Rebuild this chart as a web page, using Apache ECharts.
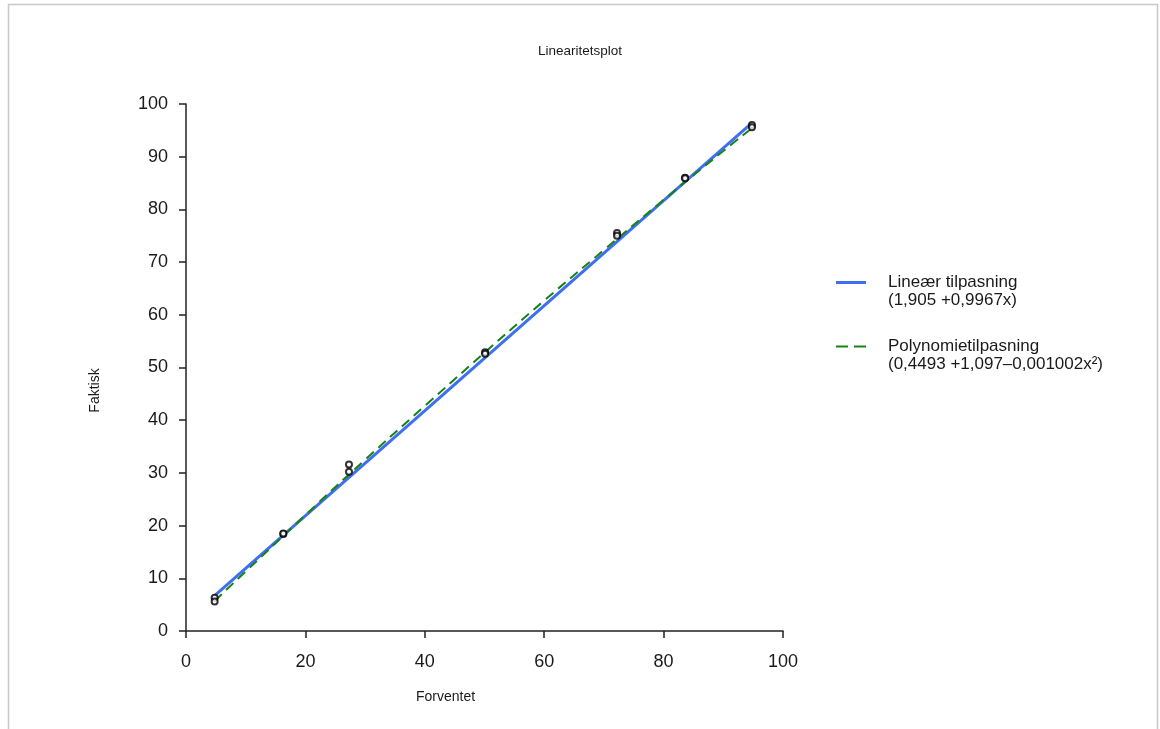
<!DOCTYPE html>
<html>
<head>
<meta charset="utf-8">
<script src="https://cdn.jsdelivr.net/npm/echarts@6/dist/echarts.min.js"></script>
<style>
  html, body { margin: 0; padding: 0; background: #fff; }
  #chart { width: 1160px; height: 729px; }
</style>
</head>
<body>
<div id="chart"></div>
<script>
// measured replicates (expected vs actual)
var expected = [4.8, 4.8, 16.3, 16.3, 27.3, 27.3, 50.1, 50.1, 72.2, 72.2, 83.6, 83.6, 94.8, 94.8];
var actual   = [6.3, 5.6, 18.4, 18.5, 31.6, 30.2, 52.9, 52.6, 75.5, 75.0, 86.0, 85.9, 96.0, 95.6];

// linear fit line, read at the ends
var linX = [4.8, 94.8];
var linY = [6.7, 96.4];

// polynomial fit curve
var polyX = [4.8, 10, 20, 30, 40, 50, 60, 70, 80, 90, 94.8];
var polyY = [5.7, 11.3, 22.0, 32.5, 42.7, 52.8, 62.7, 72.3, 81.8, 91.1, 95.4];

var xTicks = [0, 20, 40, 60, 80, 100];
var yTicks = [0, 10, 20, 30, 40, 50, 60, 70, 80, 90, 100];

var linName = 'Lineær tilpasning\n(1,905 +0,9967x)';
var polyName = 'Polynomietilpasning\n(0,4493 +1,097\u20130,001002x\u00b2)';

var FONT = '"Liberation Sans", Arial, sans-serif';
var TXT = '#1a1a1a';
var BLUE = '#3d6ff0';
var GREEN = '#168216';

function pairs(xs, ys) {
    var out = [];
    for (var i = 0; i < xs.length; i++) {
        out.push([xs[i], ys[i]]);
    }
    return out;
}

// legend text: blank first row so the icon lines up with the first text row
function legendText(name) {
    var lines = name.split('\n');
    var out = ['{t| }'];
    for (var i = 0; i < lines.length; i++) {
        out.push('{t|' + lines[i] + '}');
    }
    return out.join('\n');
}

var axisCommon = {
    axisLine: { show: true, lineStyle: { color: '#222', width: 1.5 } },
    axisTick: { show: true, length: 7, lineStyle: { color: '#222', width: 1.5 } },
    splitLine: { show: false },
    nameTextStyle: { color: TXT, fontSize: 14, fontFamily: FONT }
};

var myChart = echarts.init(document.getElementById('chart'));

var option = {
    backgroundColor: '#fff',
    animation: false,
    title: {
        text: 'Linearitetsplot',
        left: 'center',
        top: 39,
        textStyle: { color: TXT, fontSize: 13.5, fontWeight: 'normal', fontFamily: FONT }
    },
    graphic: [{
        type: 'rect',
        shape: { x: 8.5, y: 4.5, width: 1149, height: 760 },
        style: { fill: null, stroke: '#c8c8c8', lineWidth: 1.5 },
        silent: true
    }],
    legend: {
        orient: 'vertical',
        left: 831,
        top: 251,
        itemWidth: 30,
        itemHeight: 14,
        itemGap: 11,
        data: [
            { name: linName, icon: 'path://M0,0H30V3H0Z' },
            { name: polyName, icon: 'path://M0,0H12V2H0Z M18,0H30V2H18Z' }
        ],
        formatter: legendText,
        textStyle: {
            color: TXT, fontSize: 17, fontFamily: FONT,
            rich: {
                t: { color: TXT, fontSize: 17, fontFamily: FONT, lineHeight: 18, padding: [0, 0, 0, 17] }
            }
        }
    },
    grid: { left: 186, right: 377, top: 104, bottom: 98 },
    series: [
        {
            type: 'line',
            name: linName,
            data: pairs(linX, linY),
            symbol: 'none',
            lineStyle: { color: BLUE, width: 3 },
            itemStyle: { color: BLUE },
            z: 3
        },
        {
            type: 'line',
            name: polyName,
            data: pairs(polyX, polyY),
            smooth: true,
            symbol: 'none',
            lineStyle: { color: GREEN, width: 2, type: [10, 6] },
            itemStyle: { color: GREEN },
            z: 4
        },
        {
            type: 'scatter',
            name: 'data',
            data: pairs(expected, actual),
            symbol: 'emptyCircle',
            symbolSize: 6,
            itemStyle: { color: '#000', borderColor: '#000', borderWidth: 1.6 },
            z: 5
        }
    ]
};

option.xAxis = Object.assign({}, axisCommon, {
    type: 'value',
    min: xTicks[0],
    max: xTicks[xTicks.length - 1],
    interval: 20,
    name: 'Forventet',
    nameLocation: 'middle',
    nameGap: 59,
    nameTextStyle: Object.assign({}, axisCommon.nameTextStyle, { padding: [0, 78, 0, 0] }),
    axisLabel: { color: TXT, fontSize: 18, fontFamily: FONT, margin: 22 }
});
option.yAxis = Object.assign({}, axisCommon, {
    type: 'value',
    min: yTicks[0],
    max: yTicks[yTicks.length - 1],
    interval: 10,
    name: 'Faktisk',
    nameLocation: 'middle',
    nameGap: 84,
    nameTextStyle: Object.assign({}, axisCommon.nameTextStyle, { padding: [0, 46, 0, 0] }),
    axisLabel: { color: TXT, fontSize: 18, fontFamily: FONT, margin: 18 }
});

myChart.setOption(option);
</script>
</body>
</html>
